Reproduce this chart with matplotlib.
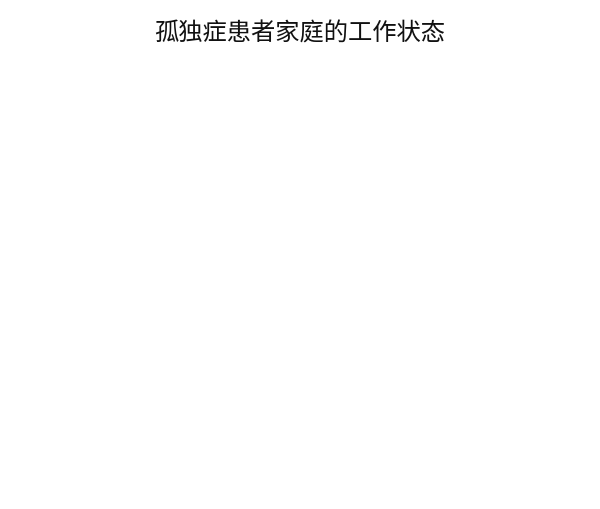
import matplotlib
matplotlib.use("Agg")
import matplotlib.pyplot as plt

plt.rcParams['font.family'] = ['Noto Sans CJK SC', 'DejaVu Sans']

# the reference shows no marks, only the title
title = "孤独症患者家庭的工作状态"
categories = []
values = []

fig = plt.figure(figsize=(6, 5.1), dpi=100)
ax = fig.add_axes([0.05, 0.05, 0.9, 0.8])
if values:
    ax.pie(values, labels=categories)
ax.axis("off")

fig.text(0.5, 0.935, title, ha="center", va="center", fontsize=17.5, color="#111111")

fig.savefig("out.png", dpi=100, facecolor="white")
